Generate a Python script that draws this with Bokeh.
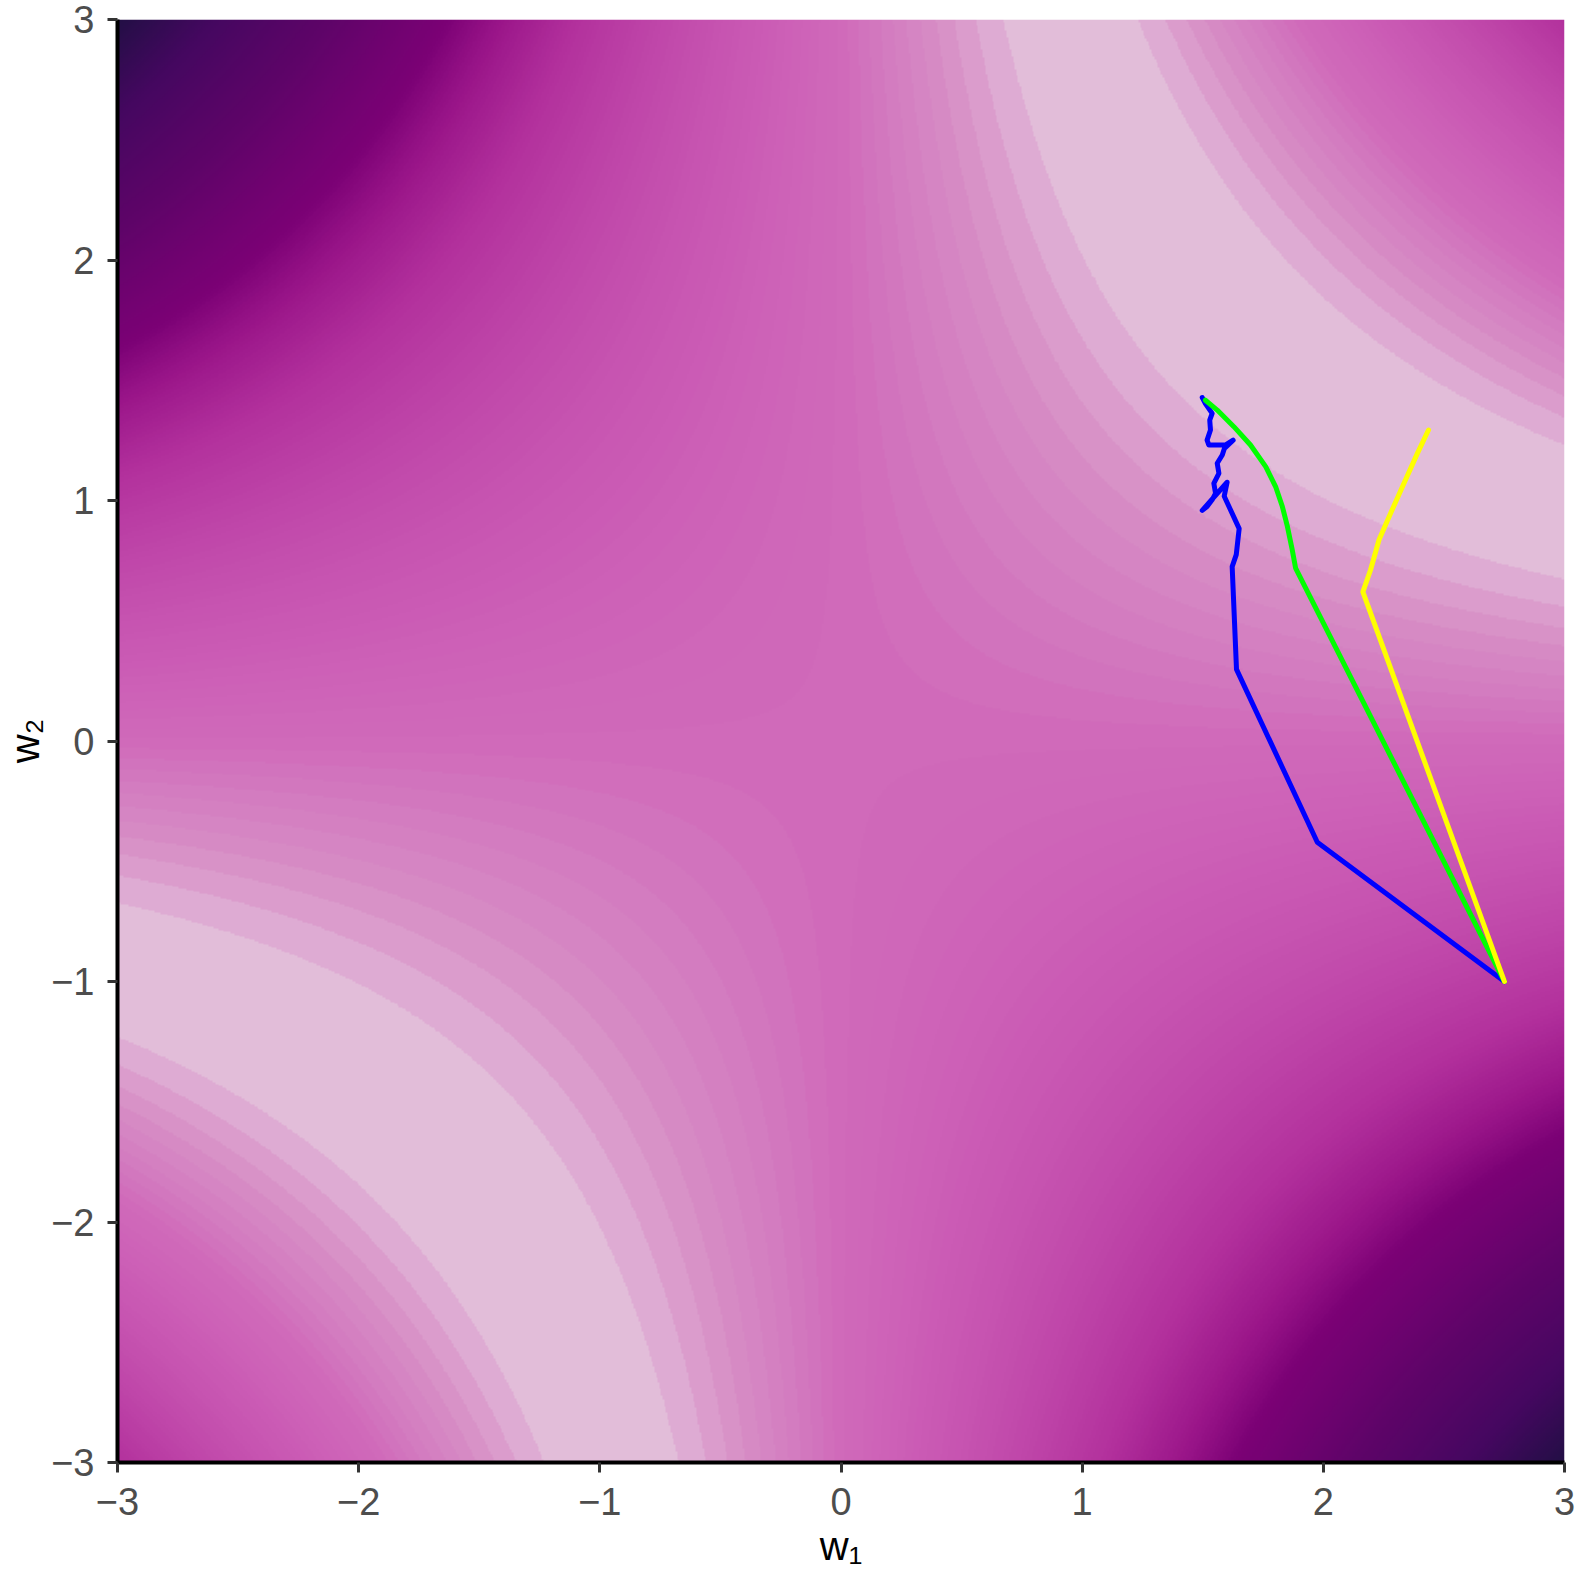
import numpy as np
from bokeh.plotting import figure
from bokeh.models import LinearColorMapper, FixedTicker
from bokeh.embed import file_html
from bokeh.resources import INLINE

# ---- loss surface: L(w1, w2) = (w1 * w2 - target)^2, drawn as filled levels ----
w_lo, w_hi = -3.0, 3.0
target = 2.855          # product w1*w2 at the valley floor
level_step = 0.697      # width of one contour level of the loss
n_grid = 900

# colour ramp of the fill (loss value -> colour)
ramp_loss = [0.0, 0.35, 1.05, 1.75, 2.45, 3.15, 5.0, 8.0, 14.0, 25.0, 38.0, 50.0, 60.0, 85.0, 113.0, 145.0]
ramp_colours = ["#E3C0DB", "#E2BDD9", "#DEABD3", "#DB9CCC", "#D892C7", "#D68AC4", "#D37DC0",
                "#D06ABA", "#CB5CB5", "#C048AA", "#B2309C", "#9A1589", "#7B0175", "#5E0468",
                "#450760", "#1C1040"]

# ---- optimiser paths (w1, w2) ----
blue_w1 = [2.751, 1.975, 1.640, 1.622, 1.639, 1.651, 1.589, 1.601, 1.498, 1.518, 1.539, 1.553,
           1.546, 1.567, 1.560, 1.581, 1.590, 1.626, 1.595, 1.525, 1.518, 1.532, 1.529, 1.539,
           1.511, 1.498]
blue_w2 = [-1.000, -0.421, 0.298, 0.725, 0.775, 0.883, 1.018, 1.076, 0.959, 0.975, 1.003, 1.030,
           1.071, 1.113, 1.155, 1.189, 1.217, 1.251, 1.231, 1.231, 1.251, 1.293, 1.334, 1.362,
           1.403, 1.428]

green_w1 = [2.751, 1.885, 1.871, 1.851, 1.830, 1.802, 1.761, 1.698, 1.629, 1.560, 1.511]
green_w2 = [-1.000, 0.719, 0.795, 0.892, 0.975, 1.058, 1.141, 1.231, 1.307, 1.376, 1.417]

yellow_w1 = [2.751, 2.164, 2.196, 2.231, 2.279, 2.334, 2.390, 2.436]
yellow_w2 = [-1.000, 0.620, 0.712, 0.837, 0.947, 1.071, 1.196, 1.293]

ticks = [-3, -2, -1, 0, 1, 2, 3]

# ---- build surface ----
cell = (w_hi - w_lo) / n_grid
axis_vals = w_lo + (np.arange(n_grid) + 0.5) * cell
W1, W2 = np.meshgrid(axis_vals, axis_vals)
loss = ((W1 * W2 - target) ** 2).astype(np.float32)

n_levels = int(np.ceil(float(loss.max()) / level_step))


def hex_rgb(h):
    h = h.lstrip("#")
    return [int(h[i:i + 2], 16) for i in (0, 2, 4)]


rgb = np.array([hex_rgb(c) for c in ramp_colours], dtype=float)
palette = []
for k in range(n_levels):
    v = (k + 0.5) * level_step
    r, g, b = (int(round(np.interp(v, ramp_loss, rgb[:, j]))) for j in range(3))
    palette.append("#%02x%02x%02x" % (r, g, b))

mapper = LinearColorMapper(palette=palette, low=0.0, high=n_levels * level_step,
                           high_color=palette[-1], low_color=palette[0])

p = figure(width=1578, height=1573, x_range=(w_lo, w_hi), y_range=(w_lo, w_hi),
           output_backend="svg", toolbar_location=None,
           min_border_left=117, min_border_top=19, min_border_right=14, min_border_bottom=111)
p.outline_line_color = None
p.grid.visible = False
p.background_fill_color = "white"

p.image(image=[loss], x=w_lo, y=w_lo, dw=w_hi - w_lo, dh=w_hi - w_lo, color_mapper=mapper)

lw = 5
p.line(blue_w1, blue_w2, line_color="#0000FF", line_width=lw, line_join="round", line_cap="round")
p.line(green_w1, green_w2, line_color="#00FF00", line_width=lw, line_join="round", line_cap="round")
p.line(yellow_w1, yellow_w2, line_color="#FFFF00", line_width=lw, line_join="round", line_cap="round")

labels = {t: (("\u2212" + str(abs(t))) if t < 0 else str(t)) for t in ticks}
for ax in (p.xaxis, p.yaxis):
    ax.ticker = FixedTicker(ticks=ticks)
    ax.major_label_overrides = labels
    ax.axis_line_color = "black"
    ax.axis_line_width = 4
    ax.major_tick_line_color = "#333333"
    ax.major_tick_line_width = 3
    ax.major_tick_out = 10
    ax.major_tick_in = 0
    ax.minor_tick_line_color = None
    ax.major_label_text_font = "Liberation Sans"
    ax.major_label_text_font_size = "38px"
    ax.major_label_text_color = "#4D4D4D"
    ax.axis_label_text_font = "Liberation Sans"
    ax.axis_label_text_font_size = "40px"
    ax.axis_label_text_font_style = "normal"
    ax.axis_label_text_color = "black"

p.xaxis.major_label_standoff = 15
p.xaxis.axis_label_standoff = 6
p.yaxis.major_label_standoff = 13
p.yaxis.axis_label_standoff = 1
p.xaxis.axis_label = "w\u2081"
p.yaxis.axis_label = "w\u2082"

open("out.html", "w").write(file_html(p, INLINE))
